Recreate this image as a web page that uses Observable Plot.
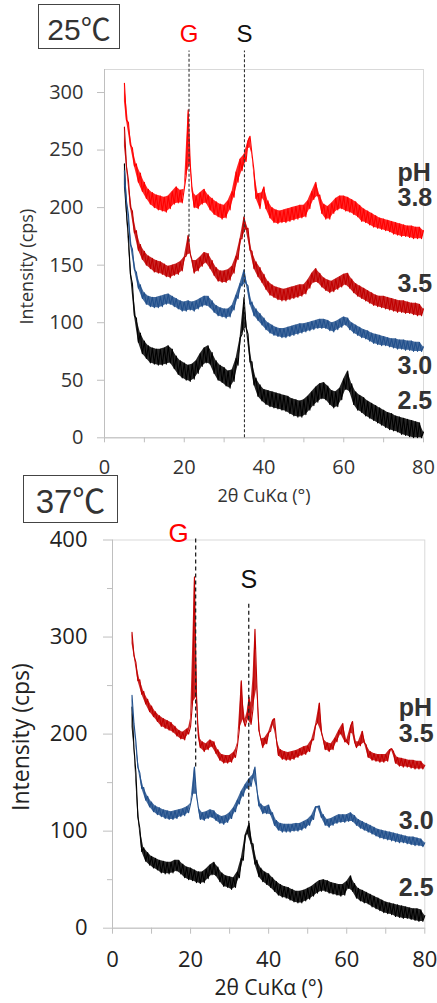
<!DOCTYPE html>
<html><head><meta charset="utf-8">
<script src="https://cdn.jsdelivr.net/npm/d3@7"></script>
<script src="https://cdn.jsdelivr.net/npm/@observablehq/plot@0.6"></script>
<style>
body{margin:0;background:#fff;}
#wrap{position:relative;width:437px;height:1003px;overflow:hidden;}
#wrap svg{position:absolute;left:0;}
.temp{position:absolute;border:1.3px solid #444;background:#fff;color:#333;display:flex;align-items:center;justify-content:center;box-sizing:border-box;font-family:"Liberation Sans","Noto Sans CJK JP",sans-serif;}
</style></head><body><div id="wrap"></div>
<script>
// measurement grid (2θ, degrees)
const twoTheta = d3.range(5, 80.001, 0.5);

// ---- 25 °C panel ----
const top38 = [
308,276,274,254,252,236,238,222,230,214,
222,208,216,203,213,200,211,198,210,197,
209,196,210,199,214,203,218,204,215,204,
216,228,285,238,214,200,210,199,213,203,
216,204,211,198,208,194,205,192,203,190,
202,191,206,198,214,209,231,222,242,232,
246,240,258,262,246,232,208,212,199,213,
218,199,206,191,200,187,198,186,197,187,
198,187,199,188,200,189,201,190,202,191,
202,192,206,199,214,207,222,210,211,195,
203,190,201,190,204,195,208,198,210,199,
210,197,209,196,207,194,205,192,202,188,
199,187,197,185,195,183,193,182,191,181,
190,180,189,179,188,177,187,176,186,175,
185,175,184,174,184,173,183,173,183,173,
180];
const top35 = [
270,236,224,200,197,178,180,163,168,155,
162,150,158,147,156,144,154,143,153,142,
151,140,149,139,150,141,151,142,153,145,
157,158,176,160,154,143,154,145,157,149,
161,152,160,147,154,141,148,136,145,135,
145,135,146,137,149,143,158,155,173,173,
192,181,182,163,162,147,153,140,148,135,
142,129,136,124,133,122,131,120,130,119,
129,119,130,120,131,121,132,122,133,123,
133,125,137,130,143,135,147,135,143,131,
139,128,137,126,136,127,138,129,140,131,
142,133,143,130,138,126,134,123,132,121,
130,119,128,117,126,115,124,114,123,113,
123,112,122,111,121,110,120,109,119,109,
119,108,118,108,117,107,117,106,116,106,
112];
const top30 = [
232,206,194,168,164,146,144,130,133,121,
126,116,123,114,122,113,122,113,123,114,
124,116,125,116,123,114,121,112,119,110,
118,110,119,111,118,110,119,112,121,114,
123,115,123,113,119,109,115,106,113,105,
112,104,112,105,115,111,124,121,134,132,
146,134,132,116,118,106,112,102,108,98,
104,94,100,91,98,89,96,88,95,87,
95,87,96,88,97,89,98,90,99,91,
99,92,100,93,101,94,102,95,103,95,
103,95,102,93,100,92,101,94,103,96,
105,98,104,94,100,91,98,89,96,87,
94,86,93,84,91,82,90,81,89,80,
88,80,87,79,86,78,86,77,85,77,
85,76,84,76,84,75,83,75,83,75,
79];
const top25 = [
238,196,175,142,134,106,104,83,91,73,
84,69,80,65,78,64,77,63,77,63,
78,64,80,65,77,60,71,55,67,52,
65,50,63,49,64,51,67,56,73,62,
78,65,80,64,74,56,67,50,63,48,
61,45,58,43,59,49,69,63,87,90,
122,96,90,66,66,46,52,36,46,32,
42,29,41,27,40,26,39,25,38,24,
37,23,36,21,34,19,33,18,32,18,
33,20,36,24,40,28,44,31,47,34,
48,33,45,29,41,26,40,27,43,33,
51,42,58,40,47,29,40,24,37,22,
35,19,32,17,30,15,28,13,26,11,
24,9,22,7,21,6,19,5,18,3,
17,2,16,1,15,0,14,0,13,0,
5];

// ---- 37 °C panel ----
const bot35 = [
305,281,274,255,256,241,244,231,236,223,
229,218,223,213,219,208,216,206,214,204,
212,202,208,198,204,195,202,194,205,200,
208,232,362,238,198,186,192,182,190,184,
194,187,192,180,184,173,179,170,178,170,
178,171,181,176,188,205,255,215,208,216,
238,210,226,308,248,204,195,186,196,190,
202,203,214,216,194,178,184,174,182,173,
181,173,182,174,183,176,185,178,187,179,
188,182,194,194,209,212,232,202,195,184,
191,182,190,184,196,192,204,200,211,192,
194,189,208,213,192,186,192,188,203,191,
189,176,182,173,180,172,179,171,179,171,
179,172,184,185,182,170,176,167,175,166,
174,166,173,165,173,164,172,164,172,164,
168];
const bot30 = [
240,211,192,166,160,144,145,132,136,125,
130,120,126,117,124,115,122,113,121,112,
120,112,121,113,122,115,123,116,125,119,
128,138,166,138,124,112,119,111,120,113,
122,114,121,111,117,108,115,107,116,109,
119,113,124,120,132,128,141,136,148,144,
154,146,158,166,143,126,128,118,125,118,
127,117,119,106,111,101,108,99,107,99,
107,99,107,100,108,100,108,101,110,103,
112,106,116,112,125,125,126,114,117,106,
112,104,113,106,115,108,117,109,117,109,
117,110,119,110,116,106,112,103,110,101,
108,99,106,97,104,95,102,93,101,92,
100,91,99,90,98,89,97,88,96,88,
95,87,94,86,94,85,93,85,92,84,
88];
const bot25 = [
228,186,160,115,103,79,83,69,78,65,
74,62,72,60,70,57,69,56,68,56,
68,57,70,59,70,56,66,52,63,50,
62,49,60,47,58,46,58,47,61,51,
65,55,68,54,63,48,57,43,54,42,
53,40,52,42,58,52,72,70,96,98,
108,87,87,66,70,53,62,48,58,45,
56,42,52,38,48,34,45,32,43,31,
42,29,40,27,38,26,38,26,39,28,
41,30,43,33,46,36,49,38,50,38,
49,36,47,35,46,34,45,33,45,34,
48,41,54,38,46,31,41,28,39,26,
37,25,35,22,33,20,31,18,29,16,
27,15,26,14,25,12,24,11,23,10,
22,10,21,9,20,8,20,7,19,7,
13];

// series names / colours
const names25 = ["2.5", "3.0", "3.5", "3.8"];
const values25 = [top25, top30, top35, top38];
const names37 = ["2.5", "3.0", "3.5"];
const values37 = [bot25, bot30, bot35];
const seriesColors = {"2.5": "#000000", "3.0": "#22508c", "3.5": "#c00000", "3.8": "#ff0000"};

// end labels (text, intensity)
const labelText25 = ["pH", "3.8", "3.5", "3.0", "2.5"];
const labelY25 = [230, 208, 134, 62, 32];
const labelText37 = ["pH", "3.5", "3.0", "2.5"];
const labelY37 = [227, 200, 110, 41];

// reference peaks: G and S
const peakNames = ["G", "S"];
const peakX25 = [21.2, 35.1];
const peakLow25 = [170, 0];
const peakHigh25 = [336, 336];
const peakLabelY25 = [351, 351];
const peakX37 = [21.3, 34.9];
const peakLow37 = [166, 106];
const peakHigh37 = [403, 334];
const peakLabelY37 = [407, 359];

const yTicks25 = [0, 50, 100, 150, 200, 250, 300];
const yTicks37 = [0, 100, 200, 300, 400];
const yMinor37 = [50, 150, 250, 350];
const xTicks = [0, 10, 20, 30, 40, 50, 60, 70, 80];

for (const v of [...values25, ...values37]) if (v.length !== twoTheta.length) throw new Error("length " + v.length);

// a scan: its points, and the spread between each point and its neighbours (noise band)
function scanMarks(name, vals) {
  const pts = vals.map((v, i) => {
    const a = vals[Math.max(0, i - 1)], b = vals[Math.min(vals.length - 1, i + 1)];
    const m = (a + b) / 2;
    return {x: twoTheta[i], y: v, lo: Math.min(v, m), hi: Math.max(v, m)};
  });
  const c = seriesColors[name];
  return [
    Plot.areaY(pts, {x: "x", y1: "lo", y2: "hi", fill: c, fillOpacity: 0.85}),
    Plot.line(pts, {x: "x", y: "y", stroke: c, strokeWidth: 1.1})
  ];
}
function peaks(xs, lo, hi, ly) {
  return peakNames.map((n, i) => ({name: n, x: xs[i], y1: lo[i], y2: hi[i], ly: ly[i]}));
}
const xFmt = d => (d % 20 === 0 ? String(d) : "");

const wrap = document.getElementById("wrap");

// ---------- top panel (25 °C) ----------
const p25 = peaks(peakX25, peakLow25, peakHigh25, peakLabelY25);
const lab25 = labelText25.map((t, i) => ({t, y: labelY25[i]}));
const svg25 = Plot.plot({
  width: 437, height: 505,
  marginLeft: 104, marginRight: 14, marginTop: 69, marginBottom: 67.7,
  style: {fontFamily: "'Open Sans', sans-serif", background: "transparent", overflow: "visible"},
  x: {domain: [0, 80]},
  y: {domain: [0, 320]},
  marks: [
    Plot.frame({stroke: "#d9d9d9"}),
    Plot.ruleX([0], {stroke: "#bfbfbf"}),
    Plot.ruleY([0], {stroke: "#bfbfbf"}),
    Plot.axisY({ticks: yTicks25, tickSize: 7, tickPadding: 14, fontSize: 20, fill: "#333", stroke: "#bfbfbf", label: null}),
    Plot.axisX({ticks: xTicks, tickFormat: xFmt, tickSize: 5, tickPadding: 17, fontSize: 20, fill: "#333", stroke: "#bfbfbf", label: null}),
    ...names25.flatMap((n, k) => scanMarks(n, values25[k])),
    Plot.ruleX(p25, {x: "x", y1: "y1", y2: "y2", stroke: "#333", strokeWidth: 1.1, strokeDasharray: "3,2"}),
    Plot.text(p25.filter(d => d.name === "G"), {x: "x", y: "ly", text: "name", fill: "#ff0000", fontSize: 24, fontFamily: "Liberation Sans"}),
    Plot.text(p25.filter(d => d.name === "S"), {x: "x", y: "ly", text: "name", fill: "#111", fontSize: 24, fontFamily: "Liberation Sans"}),
    Plot.text(lab25, {x: () => 80, y: "y", text: "t", textAnchor: "start", dx: -26, fontSize: 25, fontWeight: "bold", fill: "#333", fontFamily: "Liberation Sans"}),
    Plot.text(["2θ CuKα (°)"], {frameAnchor: "bottom", lineAnchor: "middle", textAnchor: "middle", dy: 58, fontSize: 18, fill: "#333"}),
    Plot.text(["Intensity (cps)"], {frameAnchor: "left", lineAnchor: "middle", textAnchor: "middle", dx: -77, dy: 13, rotate: -90, fontSize: 18, fill: "#333"})
  ]
});
svg25.style.top = "0px";
wrap.appendChild(svg25);

// ---------- bottom panel (37 °C) ----------
const p37 = peaks(peakX37, peakLow37, peakHigh37, peakLabelY37);
const lab37 = labelText37.map((t, i) => ({t, y: labelY37[i]}));
const svg37 = Plot.plot({
  width: 437, height: 498,
  marginLeft: 112, marginRight: 12.7, marginTop: 34.5, marginBottom: 75.3,
  style: {fontFamily: "'Open Sans', sans-serif", background: "transparent", overflow: "visible"},
  x: {domain: [0, 80]},
  y: {domain: [0, 400]},
  marks: [
    Plot.frame({stroke: "#d9d9d9"}),
    Plot.ruleX([0], {stroke: "#bfbfbf"}),
    Plot.ruleY([0], {stroke: "#bfbfbf"}),
    Plot.axisY({ticks: yTicks37, tickSize: 9, tickPadding: 16, fontSize: 22, fill: "#222", stroke: "#bfbfbf", label: null}),
    Plot.axisY({ticks: yMinor37, tickSize: 5, tickFormat: () => "", stroke: "#bfbfbf", label: null}),
    Plot.axisX({ticks: xTicks, tickFormat: xFmt, tickSize: 6, tickPadding: 17, fontSize: 22, fill: "#222", stroke: "#bfbfbf", label: null}),
    ...names37.flatMap((n, k) => scanMarks(n, values37[k])),
    Plot.ruleX(p37, {x: "x", y1: "y1", y2: "y2", stroke: "#222", strokeWidth: 1.3, strokeDasharray: "4,3"}),
    Plot.text(p37.filter(d => d.name === "G"), {x: "x", y: "ly", text: "name", textAnchor: "end", dx: -7, fill: "#ff0000", fontSize: 26, fontFamily: "Liberation Sans"}),
    Plot.text(p37.filter(d => d.name === "S"), {x: "x", y: "ly", text: "name", fill: "#111", fontSize: 25, fontFamily: "Liberation Sans"}),
    Plot.text(lab37, {x: () => 80, y: "y", text: "t", textAnchor: "start", dx: -26, fontSize: 25, fontWeight: "bold", fill: "#333", fontFamily: "Liberation Sans"}),
    Plot.text(["2θ CuKα (°)"], {frameAnchor: "bottom", lineAnchor: "middle", textAnchor: "middle", dy: 60, fontSize: 21, fill: "#222"}),
    Plot.text(["Intensity (cps)"], {frameAnchor: "left", lineAnchor: "middle", textAnchor: "middle", dx: -91, dy: 3, rotate: -90, fontSize: 23, fill: "#222"})
  ]
});
svg37.style.top = "505px";
wrap.appendChild(svg37);

// temperature boxes
const t1 = document.createElement("div");
t1.className = "temp"; t1.textContent = "25℃";
Object.assign(t1.style, {left: "38px", top: "4px", width: "82px", height: "45px", fontSize: "30px"});
wrap.appendChild(t1);
const t2 = document.createElement("div");
t2.className = "temp"; t2.textContent = "37℃";
Object.assign(t2.style, {left: "23px", top: "475px", width: "95px", height: "48px", fontSize: "33px"});
wrap.appendChild(t2);
</script></body></html>
